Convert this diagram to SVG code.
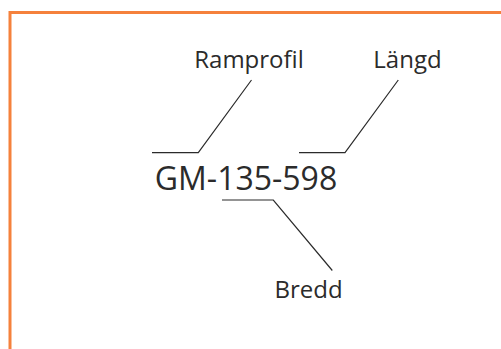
<svg xmlns="http://www.w3.org/2000/svg" width="501" height="349" viewBox="0 0 501 349">
  <style>
    .lbl { font-family: "Open Sans", "Noto Sans", sans-serif; fill: #2b2b2b; text-anchor: middle; }
    .conn { fill: none; stroke: #2b2b2b; stroke-width: 1.2; }
  </style>
  <rect width="501" height="349" fill="#ffffff"/>
  <rect x="10" y="12.5" width="520" height="360" fill="none" stroke="#F5813C" stroke-width="3"/>
  <g id="code">
    <text class="lbl" x="246" y="190" font-size="32">GM-135-598</text>
  </g>
  <g id="ramprofil">
    <text class="lbl" x="249" y="68" font-size="24">Ramprofil</text>
  </g>
  <g id="langd">
    <text class="lbl" x="407.5" y="68" font-size="24">Längd</text>
  </g>
  <g id="bredd">
    <text class="lbl" x="308.5" y="298.3" font-size="24">Bredd</text>
  </g>
  <g id="connectors">
    <polyline class="conn" points="152,152.7 198.3,152.7 251.5,80"/>
    <polyline class="conn" points="299,152.7 345,152.7 398.3,80"/>
    <polyline class="conn" points="222,200 273.3,200 332.3,270.5"/>
  </g>
</svg>
